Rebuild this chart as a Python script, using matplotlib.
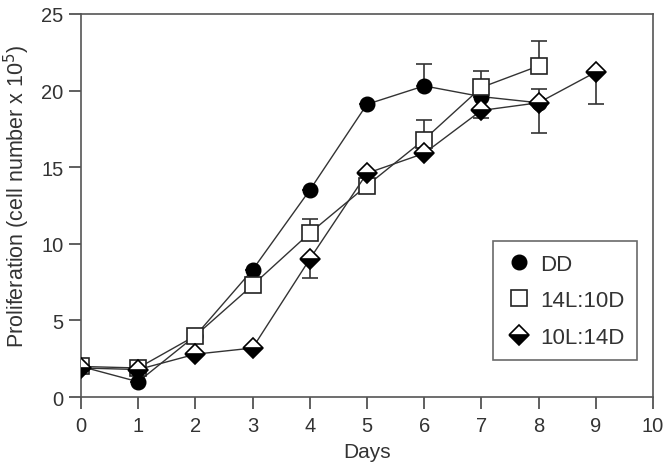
import numpy as np
import matplotlib
matplotlib.use("Agg")
import matplotlib.pyplot as plt

plt.rcParams['font.family'] = ['Liberation Sans', 'DejaVu Sans']

# data
days = [0, 1, 2, 3, 4, 5, 6, 7, 8, 9]

dd = [2.0, 1.0, 4.0, 8.3, 13.5, 19.1, 20.3, 19.6, 19.2]
dd_up = [0, 0, 0, 0, 0, 0, 1.4, 0, 0.9]

ld14 = [2.0, 1.9, 4.0, 7.3, 10.7, 13.8, 16.8, 20.2, 21.6]
ld14_up = [0, 0, 0, 0, 0.9, 0, 1.3, 1.1, 1.6]

ld10 = [1.9, 1.8, 2.8, 3.2, 9.0, 14.6, 15.9, 18.7, 19.2, 21.2]
ld10_dn = [0, 0, 0, 0, 1.2, 0, 0, 0.5, 2.0, 2.1]

fig = plt.figure(figsize=(6.69, 4.64), dpi=100)
ax = fig.add_axes([0.121, 0.142, 0.855, 0.826])

lc = '#333333'
ax.errorbar(days[:9], ld14, yerr=[np.zeros(9), ld14_up], capsize=6,
            ecolor=lc, elinewidth=1.2, capthick=1.2, zorder=2, fmt='none')
ax.errorbar(days[:9], dd, yerr=[np.zeros(9), dd_up], capsize=6,
            ecolor=lc, elinewidth=1.2, capthick=1.2, zorder=2, fmt='none')
ax.errorbar(days, ld10, yerr=[ld10_dn, np.zeros(10)], capsize=6,
            ecolor=lc, elinewidth=1.2, capthick=1.2, zorder=2, fmt='none')

ax.plot(days[:9], dd, color=lc, lw=1, marker='o', ms=10.5, mfc='black',
        mec='black', label='DD', zorder=3)
ax.plot(days[:9], ld14, color=lc, lw=1, marker='s', ms=11.5, mfc='white',
        mec='#222222', mew=1.2, label='14L:10D', zorder=4)
ax.plot(days, ld10, color=lc, lw=1, marker='D', ms=10.5, fillstyle='bottom',
        mfc='black', mfcalt='white', mec='black', mew=1.2, label='10L:14D', zorder=5)

ax.set_xlim(0, 10)
ax.set_ylim(0, 25)
ax.set_xticks(range(0, 11))
ax.set_yticks(range(0, 26, 5))
ax.tick_params(direction='out', length=8.5, width=1.2, colors='#444444',
               labelcolor='#333333', labelsize=14.5, top=False, right=False)
ax.tick_params(axis='x', pad=5)
ax.tick_params(axis='y', pad=4)
for s in ax.spines.values():
    s.set_color('#555555')
    s.set_linewidth(1.2)

ax.set_xlabel('Days', fontsize=15, color='#333333')
ax.set_ylabel('Proliferation (cell number x 10$^5$)', fontsize=15.5,
              color='#333333')
ax.xaxis.set_label_coords(0.5, -0.118)
ax.yaxis.set_label_coords(-0.086, 0.527)

leg = ax.legend(loc='lower right', bbox_to_anchor=(0.972, 0.097), frameon=True,
                fancybox=False, edgecolor='#444444', fontsize=16,
                handlelength=1.3, handletextpad=0.3, labelspacing=0.7,
                borderpad=0.55, borderaxespad=0)
leg.get_frame().set_linewidth(1.2)
for line in leg.get_lines():
    line.set_linestyle('none')
for t in leg.get_texts():
    t.set_color('#333333')

fig.savefig('out.png', dpi=100)
